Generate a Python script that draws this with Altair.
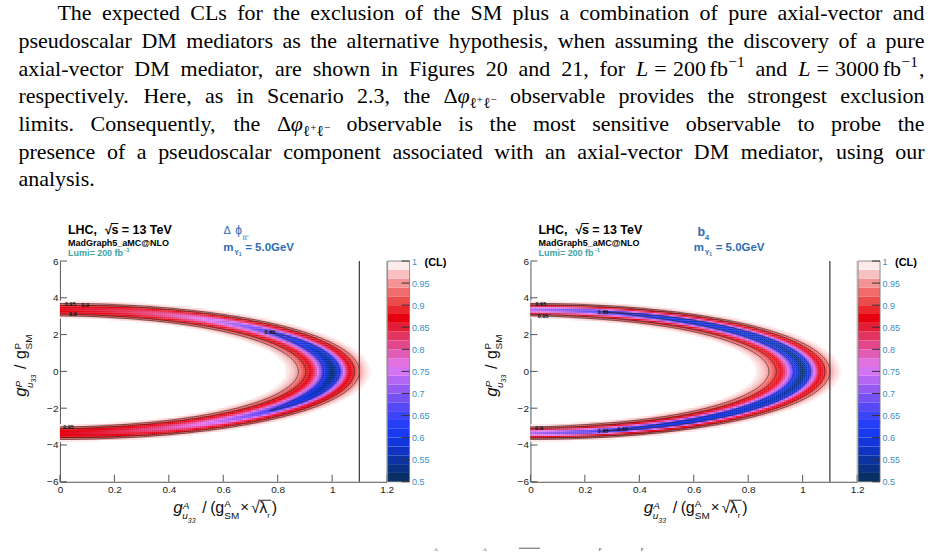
import numpy as np
import pandas as pd
import altair as alt

# ------------------------------------------------------------------
# Values
# ------------------------------------------------------------------
# normalised radius across the elliptic band (rho = 1 on the band centre)
RHO = [0.82, 0.84, 0.86, 0.88, 0.90, 0.92, 0.94, 0.96, 0.98, 1.00,
       1.02, 1.04, 1.06, 1.08, 1.10, 1.12, 1.14, 1.16]
# band centre: x-intercept (on y = 0) and y-intercept (on x = 0)
A_AX = 1.00
B_AX = 3.36

# left panel (Delta phi_ll'): CL profiles across the band, at several
# positions along the band (0 = tip on the x axis, 90 = on the y axis)
ANG_L = [0, 20, 40, 60, 75, 90]
PROF_L = [
    [1.00, 0.985, 0.97, 0.945, 0.905, 0.875, 0.80, 0.69, 0.577, 0.50, 0.593, 0.74, 0.86, 0.895, 0.95, 0.98, 0.995, 1.00],
    [1.00, 0.99, 0.97, 0.945, 0.905, 0.875, 0.81, 0.71, 0.61, 0.55, 0.62, 0.75, 0.86, 0.895, 0.95, 0.98, 0.995, 1.00],
    [1.00, 0.99, 0.975, 0.95, 0.91, 0.878, 0.83, 0.76, 0.685, 0.65, 0.69, 0.78, 0.865, 0.895, 0.95, 0.98, 0.995, 1.00],
    [1.00, 1.00, 0.985, 0.96, 0.92, 0.88, 0.85, 0.81, 0.78, 0.765, 0.78, 0.82, 0.87, 0.90, 0.95, 0.98, 0.995, 1.00],
    [1.00, 1.00, 0.99, 0.97, 0.93, 0.89, 0.865, 0.85, 0.835, 0.83, 0.835, 0.85, 0.875, 0.905, 0.95, 0.98, 0.995, 1.00],
    [1.00, 1.00, 1.00, 0.985, 0.95, 0.91, 0.885, 0.873, 0.868, 0.866, 0.868, 0.873, 0.885, 0.915, 0.955, 0.985, 1.00, 1.00],
]
# right panel (b4)
ANG_R = [0, 30, 55, 75, 90]
PROF_R = [
    [1.00, 0.985, 0.97, 0.945, 0.905, 0.875, 0.80, 0.69, 0.577, 0.50, 0.593, 0.74, 0.86, 0.895, 0.95, 0.98, 0.995, 1.00],
    [1.00, 0.99, 0.97, 0.945, 0.905, 0.875, 0.80, 0.69, 0.59, 0.54, 0.61, 0.745, 0.86, 0.895, 0.95, 0.98, 0.995, 1.00],
    [1.00, 0.99, 0.975, 0.95, 0.91, 0.875, 0.81, 0.71, 0.63, 0.59, 0.64, 0.76, 0.86, 0.895, 0.95, 0.98, 0.995, 1.00],
    [1.00, 1.00, 0.98, 0.955, 0.915, 0.878, 0.82, 0.75, 0.68, 0.65, 0.68, 0.775, 0.86, 0.90, 0.95, 0.98, 0.995, 1.00],
    [1.00, 1.00, 1.00, 0.985, 0.95, 0.895, 0.84, 0.78, 0.74, 0.725, 0.74, 0.79, 0.86, 0.905, 0.955, 0.985, 1.00, 1.00],
]

LEVELS = [0.65, 0.9, 0.95]
LIMIT_LINE = [1.1]
# contour labels: text, level, branch, position along band (deg)
LAB_L = [("0.95", 0.95, "out", 88), ("0.9", 0.9, "out", 85), ("0.9", 0.9, "in", 87),
         ("0.95", 0.95, "in", -88), ("0.65", 0.65, "tip", 1)]
LAB_R = [("0.95", 0.95, "out", 88), ("0.95", 0.95, "in", 87), ("0.65", 0.65, "tip", 1),
         ("0.9", 0.9, "in", -88), ("0.65", 0.65, "in", -70), ("0.65", 0.65, "tip", -1)]

X_TICKS = [0, 0.2, 0.4, 0.6, 0.8, 1.0, 1.2]
Y_TICKS = [-6, -4, -2, 0, 2, 4, 6]
CB_TICKS = [0.5, 0.55, 0.6, 0.65, 0.7, 0.75, 0.8, 0.85, 0.9, 0.95, 1.0]
CB_BANDS = [0.50, 0.52, 0.54, 0.56, 0.58, 0.60, 0.62, 0.64, 0.66, 0.68, 0.70, 0.72,
            0.74, 0.76, 0.78, 0.80, 0.82, 0.84, 0.86, 0.88, 0.90, 0.92, 0.94, 0.96, 0.98]
CL_STOPS = [0.50, 0.54, 0.58, 0.62, 0.66, 0.70, 0.74, 0.76, 0.80, 0.84, 0.87, 0.90, 0.94, 0.97, 1.00]
CL_COLORS = ["#072f55", "#0a3295", "#0f34d0", "#1a3cfa", "#4646f6", "#8453f2", "#c36df2",
             "#e27df4", "#e1519f", "#e22a4c", "#e6000f", "#ea3a3a", "#f27c7c", "#f8c0c0", "#ffffff"]

# paragraph: words; a math word is a list of (text, style, gap-before in em)
MATH_L200 = [("L", "it", 0), ("=", "rm", 0.28), ("200", "rm", 0.28), ("fb", "rm", 0.17), ("\u22121", "sup", 0.02)]
MATH_L3000 = [("L", "it", 0), ("=", "rm", 0.28), ("3000", "rm", 0.28), ("fb", "rm", 0.17), ("\u22121", "sup", 0.02),
              (",", "rm", 0.05)]
MATH_DPHI = [("\u0394", "rm", 0), ("\u03c6", "it", 0.02), ("\u2113", "sub", 0.02), ("+", "subsup", 0.0),
             ("\u2113", "sub", 0.02), ("\u2212", "subsup", 0.0)]
PARAGRAPH = [
    "The expected CLs for the exclusion of the SM plus a combination of pure axial-vector and".split(),
    "pseudoscalar DM mediators as the alternative hypothesis, when assuming the discovery of a pure".split(),
    "axial-vector DM mediator, are shown in Figures 20 and 21, for".split() + [MATH_L200, "and", MATH_L3000],
    "respectively. Here, as in Scenario 2.3, the".split() + [MATH_DPHI] + "observable provides the strongest exclusion".split(),
    "limits. Consequently, the".split() + [MATH_DPHI] + "observable is the most sensitive observable to probe the".split(),
    "presence of a pseudoscalar component associated with an axial-vector DM mediator, using our".split(),
    ["analysis."],
]
# caption line below the figures, cut by the page edge (only superscripts show)
CAPTION_BITS = ["A", "A", "P", "P"]

# ------------------------------------------------------------------
PW, PH = 327, 221          # plot area of one panel
CBW = 22                   # colour bar width
NX, NY = 164, 111
DX, DY = 1.2 / NX, 12.0 / NY
ONE = pd.DataFrame({"k": [0]})
SANS = "Liberation Sans"
SERIF = "Liberation Serif"
OX, OY = 59.5, 261.0       # page position of the left plot area

cscale = alt.Scale(domain=CL_STOPS, range=CL_COLORS, interpolate="rgb")
xs = alt.Scale(domain=[0, 1.2], nice=False, zero=False)
ys = alt.Scale(domain=[-6, 6], nice=False, zero=False)
cbs = alt.Scale(domain=[0.5, 1.0], nice=False, zero=False)
XA = alt.Axis(values=X_TICKS, format="~g", labelFlush=False, title=None, labelPadding=3)
YA = alt.Axis(values=Y_TICKS, format="~g", labelFlush=False, title=None, labelPadding=2)
CBA = alt.Axis(orient="right", offset=CBW + 1, values=CB_TICKS, format="~g", labelColor="#3c8dc4",
               labelFontSize=9, domain=False, ticks=False, labelPadding=2, title=None, labelFlush=False)

# Times / Liberation Serif advance widths (1/1000 em)
TW = {' ': 250, ',': 250, '.': 250, '-': 333, '=': 564, '+': 564, '\u2212': 564, '(': 333, ')': 333,
      '\u0394': 612, '\u03c6': 540, '\u2113': 460}
for c in "0123456789":
    TW[c] = 500
TW.update(dict(zip("ABCDEFGHIJKLMNOPQRSTUVWXYZ",
                   [722, 667, 667, 722, 611, 556, 722, 722, 333, 389, 722, 611, 889, 722, 722, 556, 722, 667,
                    556, 611, 722, 722, 944, 722, 722, 611])))
TW.update(dict(zip("abcdefghijklmnopqrstuvwxyz",
                   [444, 500, 444, 500, 444, 333, 500, 500, 278, 278, 500, 278, 778, 500, 500, 500, 500, 333,
                    389, 278, 500, 500, 722, 500, 500, 444])))
TW_IT = {"L": 556}
FS = 22.0
STYLE = {"rm": (1.0, 0.0), "it": (1.0, 0.0), "sup": (0.7, -0.40), "sub": (0.7, 0.22), "subsup": (0.5, 0.0)}


def piece_w(txt, style):
    scale = STYLE[style][0]
    tab = TW_IT if style == "it" else {}
    return sum(tab.get(c, TW.get(c, 500)) for c in txt) / 1000.0 * FS * scale


def word_pieces(word):
    pieces = [(word, "rm", 0)] if isinstance(word, str) else word
    out, x = [], 0.0
    for txt, st, gap in pieces:
        x += gap * FS
        out.append((txt, st, x))
        x += piece_w(txt, st)
    return out, x


def profile_at(phi_abs, angles, P):
    return np.array([np.interp(phi_abs, angles, P[:, j]) for j in range(P.shape[1])])


def field(angles, prof):
    P = np.array(prof)
    xc = (np.arange(NX) + 0.5) * DX
    yc = -6 + (np.arange(NY) + 0.5) * DY
    X, Y = np.meshgrid(xc, yc)
    X, Y = X.ravel(), Y.ravel()
    rho = np.sqrt((X / A_AX) ** 2 + (Y / B_AX) ** 2)
    phi = np.degrees(np.arctan2(np.abs(Y) / B_AX, X / A_AX))
    cols = np.stack([np.interp(phi, angles, P[:, j]) for j in range(P.shape[1])], axis=1)
    rr = np.array(RHO)
    k = np.clip(np.searchsorted(rr, rho) - 1, 0, len(rr) - 2)
    t = np.clip((rho - rr[k]) / (rr[k + 1] - rr[k]), 0, 1)
    idx = np.arange(len(rho))
    val = cols[idx, k] * (1 - t) + cols[idx, k + 1] * t
    val[(rho < rr[0]) | (rho > rr[-1])] = 1.0
    m = val < 0.994
    return pd.DataFrame({"x0": np.round(X[m] - DX / 2, 5), "y0": np.round(Y[m] - DY / 2, 5),
                         "cl": np.round(val[m], 3)})


def contours(angles, prof):
    P = np.array(prof)
    rf = np.linspace(RHO[0], RHO[-1], 1361)
    phis = np.arange(-90, 90.001, 0.5)
    rows, branches = [], {}

    def xy(ph, r):
        return A_AX * r * np.cos(np.radians(ph)), B_AX * r * np.sin(np.radians(ph))

    for lev in LEVELS:
        inner, outer = [], []
        for ph in phis:
            v = np.interp(rf, RHO, profile_at(abs(ph), angles, P))
            below = np.nonzero(v < lev)[0]
            if len(below) == 0:
                continue
            i0, i1 = below[0], below[-1]
            r_in = rf[i0 - 1] + (lev - v[i0 - 1]) * (rf[i0] - rf[i0 - 1]) / (v[i0] - v[i0 - 1])
            r_out = rf[i1] + (lev - v[i1]) * (rf[i1 + 1] - rf[i1]) / (v[i1 + 1] - v[i1])
            inner.append((ph, r_in))
            outer.append((ph, r_out))
        branches[f"{lev}-in"] = [(ph,) + xy(ph, r) for ph, r in inner]
        branches[f"{lev}-out"] = [(ph,) + xy(ph, r) for ph, r in outer]
        if len(inner) == len(phis):
            for name in ("in", "out"):
                key = f"{lev}-{name}"
                for o, (ph, x, y) in enumerate(branches[key]):
                    rows.append({"branch": key, "ord": o, "x": x, "y": y})
        elif inner:
            loop = branches[f"{lev}-in"] + branches[f"{lev}-out"][::-1]
            loop.append(loop[0])
            for o, (ph, x, y) in enumerate(loop):
                rows.append({"branch": f"{lev}-loop", "ord": o, "x": x, "y": y})
            (pu, ru), (pl, rl) = inner[-1], inner[0]
            branches[f"{lev}-tipu"] = [(pu,) + xy(pu, (ru + outer[-1][1]) / 2)]
            branches[f"{lev}-tipl"] = [(pl,) + xy(pl, (rl + outer[0][1]) / 2)]
    return pd.DataFrame(rows), branches


def label_df(branches, spec):
    out = []
    for txt, lev, br, ph in spec:
        key = (f"{lev}-tipu" if ph > 0 else f"{lev}-tipl") if br == "tip" else f"{lev}-{br}"
        p = min(branches[key], key=lambda q: abs(q[0] - ph))
        out.append({"t": txt, "x": p[1], "y": p[2]})
    return pd.DataFrame(out)


def T(text, x, y, size, color="#000", bold=False, italic=False, font=SANS, angle=0, align="left"):
    kw = dict(text=text, fontSize=size, font=font, color=color, align=align, baseline="alphabetic")
    if bold:
        kw["fontWeight"] = "bold"
    if italic:
        kw["fontStyle"] = "italic"
    if angle:
        kw["angle"] = angle
    return alt.Chart(ONE).mark_text(**kw).encode(x=alt.value(x), y=alt.value(y))


def R(x, x2, y, y2, color="#000", width=1.0):
    return alt.Chart(ONE).mark_rule(color=color, strokeWidth=width).encode(
        x=alt.value(x), x2=alt.value(x2), y=alt.value(y), y2=alt.value(y2))


def paragraph():
    L = []
    for i, words in enumerate(PARAGRAPH):
        xa = 57.0 if i == 0 else 18.0
        xe = 925.0
        yb = 20.0 + 27.7 * i
        laid = [word_pieces(w) for w in words]
        total = sum(w for _, w in laid)
        if len(words) > 1 and i < len(PARAGRAPH) - 1:
            gap = (xe - xa - total) / (len(words) - 1)
        else:
            gap = 0.25 * FS
        x = xa
        for pieces, w in laid:
            for txt, st, off in pieces:
                scale, dy = STYLE[st]
                L.append(T(txt, x + off - OX, yb + dy * FS - OY, FS * scale, color="#000",
                           italic=(st == "it"), font=SERIF))
            x += w + gap
    # cut caption line at the bottom edge
    for txt, xpos in zip(CAPTION_BITS, [434, 483, 599, 641]):
        L.append(T(txt, xpos - OX, 551.0 - OY, 5, color="#222", font=SERIF))
    L.append(R(519 - OX, 540 - OX, 548.5 - OY, 548.5 - OY, "#333", 0.8))
    return L


def axis_titles(oy):
    L = []
    x0, yb = 26.0, 397.0

    def yp(txt, a, r, size, italic=False):
        L.append(T(txt, x0 - r - OX, yb - a - oy, size, color="#111", italic=italic, angle=270))
    yp("g", 0, 0, 17, True)
    yp("P", 9.5, 4.5, 10, True)
    yp("u", 9.0, -6.5, 10, True)
    yp("33", 14.5, -9.5, 7, True)
    yp("/", 28.0, 0, 16)
    yp("g", 38.0, 0, 16)
    yp("P", 47.5, 5.5, 10)
    yp("SM", 47.5, -5.5, 10)
    bl = 513.0

    def xp(txt, x, dy, size, italic=False):
        L.append(T(txt, x - OX, bl + dy - oy, size, color="#111", italic=italic))
    xp("g", 173, 0, 17, True)
    xp("A", 182.5, -4, 10, True)
    xp("u", 182, 6.5, 10, True)
    xp("33", 187.5, 10, 7, True)
    xp("/", 202, 0, 16)
    xp("(", 210, 0, 16)
    xp("g", 215, 0, 16)
    xp("A", 224, -5.5, 10)
    xp("SM", 224, 6, 10)
    xp("\u00d7", 240, -0.5, 15)
    xp("\u221a", 251, 0, 15)
    xp("\u03bb", 259, 0, 16)
    xp("r", 267, 5, 8)
    xp(")", 271.5, 0, 16)
    L.append(R(258 - OX, 271 - OX, 500.5 - oy, 500.5 - oy, "#111", 0.9))
    return L


def header(right):
    L = []
    oy = OY
    L.append(T("LHC,", 8.0, 233.5 - oy, 12.5, bold=True))
    L.append(T("\u221a", 45.0, 233.5 - oy, 12.5, bold=True))
    L.append(T("s = 13 TeV", 51.5, 233.5 - oy, 12.5, bold=True))
    L.append(R(51.0, 58.5, 223.5 - oy, 223.5 - oy, "#000", 1.0))
    L.append(T("MadGraph5_aMC@NLO", 8.0, 245.5 - oy, 9, bold=True))
    L.append(T("Lumi= 200 fb", 8.0, 256 - oy, 9, color="#3fa3a6", bold=True))
    L.append(T("-1", 64.5, 252 - oy, 6, color="#3fa3a6", bold=True))
    blue = "#2f6db3"
    if right:
        L.append(T("b", 167.2, 235.5 - oy, 12.5, color=blue, bold=True))
        L.append(T("4", 174.5, 239.5 - oy, 8, color=blue, bold=True))
    else:
        L.append(T("\u0394", 163.8, 234 - oy, 11, color=blue))
        L.append(T("\u03d5", 175.5, 234 - oy, 12, color=blue))
        L.append(T("\u2113\u2113'", 183.0, 239.5 - oy, 7, color=blue))
    L.append(T("m", 163.5, 250.5 - oy, 11.5, color=blue, bold=True))
    L.append(T("Y", 174.5, 254.5 - oy, 7, color=blue, bold=True))
    L.append(T("1", 179, 256 - oy, 5, color=blue, bold=True))
    L.append(T("= 5.0GeV", 185.5, 250.5 - oy, 11.5, color=blue, bold=True))
    return L


def colorbar():
    x0 = PW + 1
    bands = alt.Chart(pd.DataFrame({"lo": CB_BANDS})).transform_calculate(
        hi="datum.lo + 0.02", mid="datum.lo + 0.01"
    ).mark_rect().encode(
        x=alt.value(x0), x2=alt.value(x0 + CBW),
        y=alt.Y("lo:Q", scale=cbs, axis=CBA), y2="hi:Q",
        color=alt.Color("mid:Q", scale=cscale, legend=None),
    )
    border = alt.Chart(ONE).mark_rect(fill="white", fillOpacity=0, stroke="#777", strokeWidth=0.8).encode(
        x=alt.value(x0), x2=alt.value(x0 + CBW), y=alt.value(0), y2=alt.value(PH))
    ticks = alt.Chart(pd.DataFrame({"v": CB_TICKS})).mark_rule(color="#333").encode(
        y=alt.Y("v:Q", scale=cbs, axis=CBA), x=alt.value(x0 + CBW - 8), x2=alt.value(x0 + CBW))
    cl = T("(CL)", 365.0, 5, 11, bold=True)
    return alt.layer(bands, border, ticks, cl)


def panel(angles, prof, labspec, right):
    cells = field(angles, prof)
    cont, branches = contours(angles, prof)
    labs = label_df(branches, labspec)

    layers = []
    if not right:
        layers.append(alt.Chart(ONE).mark_rect(fill="white", opacity=0).encode(
            x=alt.value(-OX), x2=alt.value(932 - OX), y=alt.value(-OY), y2=alt.value(552 - OY)))
    heat = alt.Chart(cells).transform_calculate(
        x1=f"datum.x0 + {DX * 1.12}", y1=f"datum.y0 + {DY * 1.12}"
    ).mark_rect().encode(
        x=alt.X("x0:Q", scale=xs, axis=XA), x2="x1:Q",
        y=alt.Y("y0:Q", scale=ys, axis=YA), y2="y1:Q",
        color=alt.Color("cl:Q", scale=cscale, legend=None),
    )
    layers.append(heat)
    layers.append(alt.Chart(cont).mark_line(color="#1a1a1a", strokeWidth=0.6).encode(
        x=alt.X("x:Q", scale=xs, axis=XA), y=alt.Y("y:Q", scale=ys, axis=YA),
        detail="branch:N", order="ord:Q"))
    layers.append(alt.Chart(labs).mark_text(fontSize=5.5, fontWeight="bold", color="#111", font=SANS).encode(
        x=alt.X("x:Q", scale=xs, axis=XA), y=alt.Y("y:Q", scale=ys, axis=YA), text="t:N"))
    layers.append(alt.Chart(pd.DataFrame({"v": LIMIT_LINE})).mark_rule(color="#444", strokeWidth=1.3).encode(
        x=alt.X("v:Q", scale=xs, axis=XA), y=alt.value(0), y2=alt.value(PH)))
    layers.append(alt.Chart(pd.DataFrame({"v": X_TICKS})).mark_rule(color="#555").encode(
        x=alt.X("v:Q", scale=xs, axis=XA), y=alt.value(PH), y2=alt.value(PH - 7)))
    layers.append(alt.Chart(pd.DataFrame({"v": Y_TICKS})).mark_rule(color="#555").encode(
        y=alt.Y("v:Q", scale=ys, axis=YA), x=alt.value(0), x2=alt.value(7)))
    layers.append(R(PW, PW, 0, PH, "#aaa", 0.8))
    layers += header(right)
    layers += axis_titles(OY)
    if not right:
        layers += paragraph()
    main = alt.layer(*layers)
    return alt.layer(main, colorbar()).resolve_scale(y="independent").properties(width=PW, height=PH)


left = panel(ANG_L, PROF_L, LAB_L, False)
right = panel(ANG_R, PROF_R, LAB_R, True)

chart = alt.hconcat(left, right, spacing=144, bounds="flush").properties(padding=0).configure_view(
    stroke=None
).configure_axis(
    labelFont=SANS, labelFontSize=10, labelColor="#222", domainColor="#555", ticks=False, grid=False
)

chart.save("out.html", embed_options={"renderer": "svg", "actions": False})
